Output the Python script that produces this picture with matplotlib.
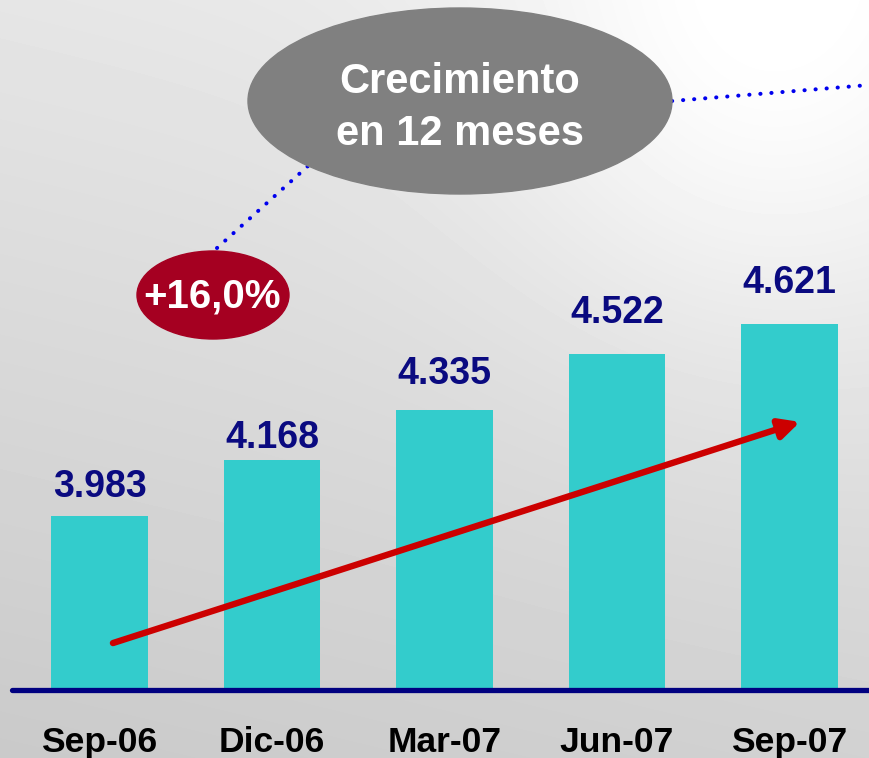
import numpy as np
import matplotlib.pyplot as plt
from matplotlib.patches import Ellipse

# ----------- DATA ------------
periods = ['Sep-06', 'Dic-06', 'Mar-07', 'Jun-07', 'Sep-07']
values = [3.983, 4.168, 4.335, 4.522, 4.621]
value_labels = ['3.983', '4.168', '4.335', '4.522', '4.621']
label_gap = [19, 12, 26, 31, 31]  # px between bar top and its label
growth_text = '+16,0%'
bubble_text = 'Crecimiento\nen 12 meses'

FONT = 'Liberation Sans'
W, H = 869, 758

fig = plt.figure(figsize=(W / 100, H / 100), dpi=100)

# background: soft grey gradient, brighter in the upper right
bg = fig.add_axes([0, 0, 1, 1], zorder=0)
yy, xx = np.mgrid[0:H, 0:W]
shade = 0.93 - 0.11 * (yy / H) - 0.03 * (1 - xx / W)
shade += 0.08 * np.exp(-(((xx - 760) / 260) ** 2 + ((yy - 60) / 300) ** 2))
shade = np.clip(shade, 0, 1)
bg.imshow(shade, cmap='gray', vmin=0, vmax=1, aspect='auto',
          extent=[0, W, H, 0], interpolation='bilinear')
bg.axis('off')

# main axes covering the whole figure
ax = fig.add_axes([0, 0, 1, 1], zorder=1)
ax.patch.set_alpha(0)
px_x = 172.5      # px per category
px_y = 300.9      # px per unit
base = 3.405      # value at the baseline
x0 = 99.5         # px of first bar centre
ax.set_xlim(-x0 / px_x, (W - x0) / px_x)
ymin = base - (H - 690) / px_y
ax.set_ylim(ymin, ymin + H / px_y)
ax.axis('off')

xs = np.arange(len(periods))
heights = [v - base for v in values]
ax.bar(xs, heights, bottom=base, width=0.562, color='#33CCCC', zorder=2)

for x, v, lab, gap in zip(xs, values, value_labels, label_gap):
    ax.annotate(lab, (x, v), xytext=(0, gap * 0.72), textcoords='offset points',
                ha='center', va='baseline', fontsize=27, fontweight='bold',
                color='#0A0A80', family=FONT, zorder=4)

for x, p in zip(xs, periods):
    ax.text(x, base - 62 / px_y, p, ha='center', va='baseline', fontsize=25.5,
            fontweight='bold', color='black', family=FONT, zorder=4)

# baseline
ax.plot([ax.get_xlim()[0] + 12 / px_x, ax.get_xlim()[1]], [base, base],
        color='#000080', lw=3.8, solid_capstyle='round', zorder=3)

# trend arrow
ax.annotate('', xy=(4.061, 4.296), xytext=(0.078, 3.561),
            arrowprops=dict(arrowstyle='-|>,head_length=1.2,head_width=0.6',
                            color='#CC0000', lw=4.6, shrinkA=0, shrinkB=0),
            zorder=5)

# callout bubbles (figure pixel positions)
def fx(px):
    return px / W

def fy(py):
    return 1 - py / H

dots = dict(transform=ax.transAxes, color='#0000EE', lw=2.9,
            linestyle=(0, (0.05, 2.7)), dash_capstyle='round',
            solid_capstyle='round', zorder=5)
ax.plot([fx(217), fx(308)], [fy(248), fy(166)], **dots)
ax.plot([fx(672), fx(869)], [fy(101), fy(85)], **dots)

ax.add_patch(Ellipse((fx(460), fy(101)), 424 / W, 186 / H,
                     transform=ax.transAxes, color='#808080', zorder=6))
ax.text(fx(460), fy(108), bubble_text, transform=ax.transAxes,
        ha='center', va='center', fontsize=30, fontweight='bold',
        color='white', family=FONT, linespacing=1.4, zorder=7)

ax.add_patch(Ellipse((fx(213), fy(295)), 152 / W, 88 / H,
                     transform=ax.transAxes, color='#A50021', zorder=6))
ax.text(fx(212), fy(297), growth_text, transform=ax.transAxes,
        ha='center', va='center', fontsize=29, fontweight='bold',
        color='white', family=FONT, zorder=7)

fig.savefig('out.png', dpi=100)
